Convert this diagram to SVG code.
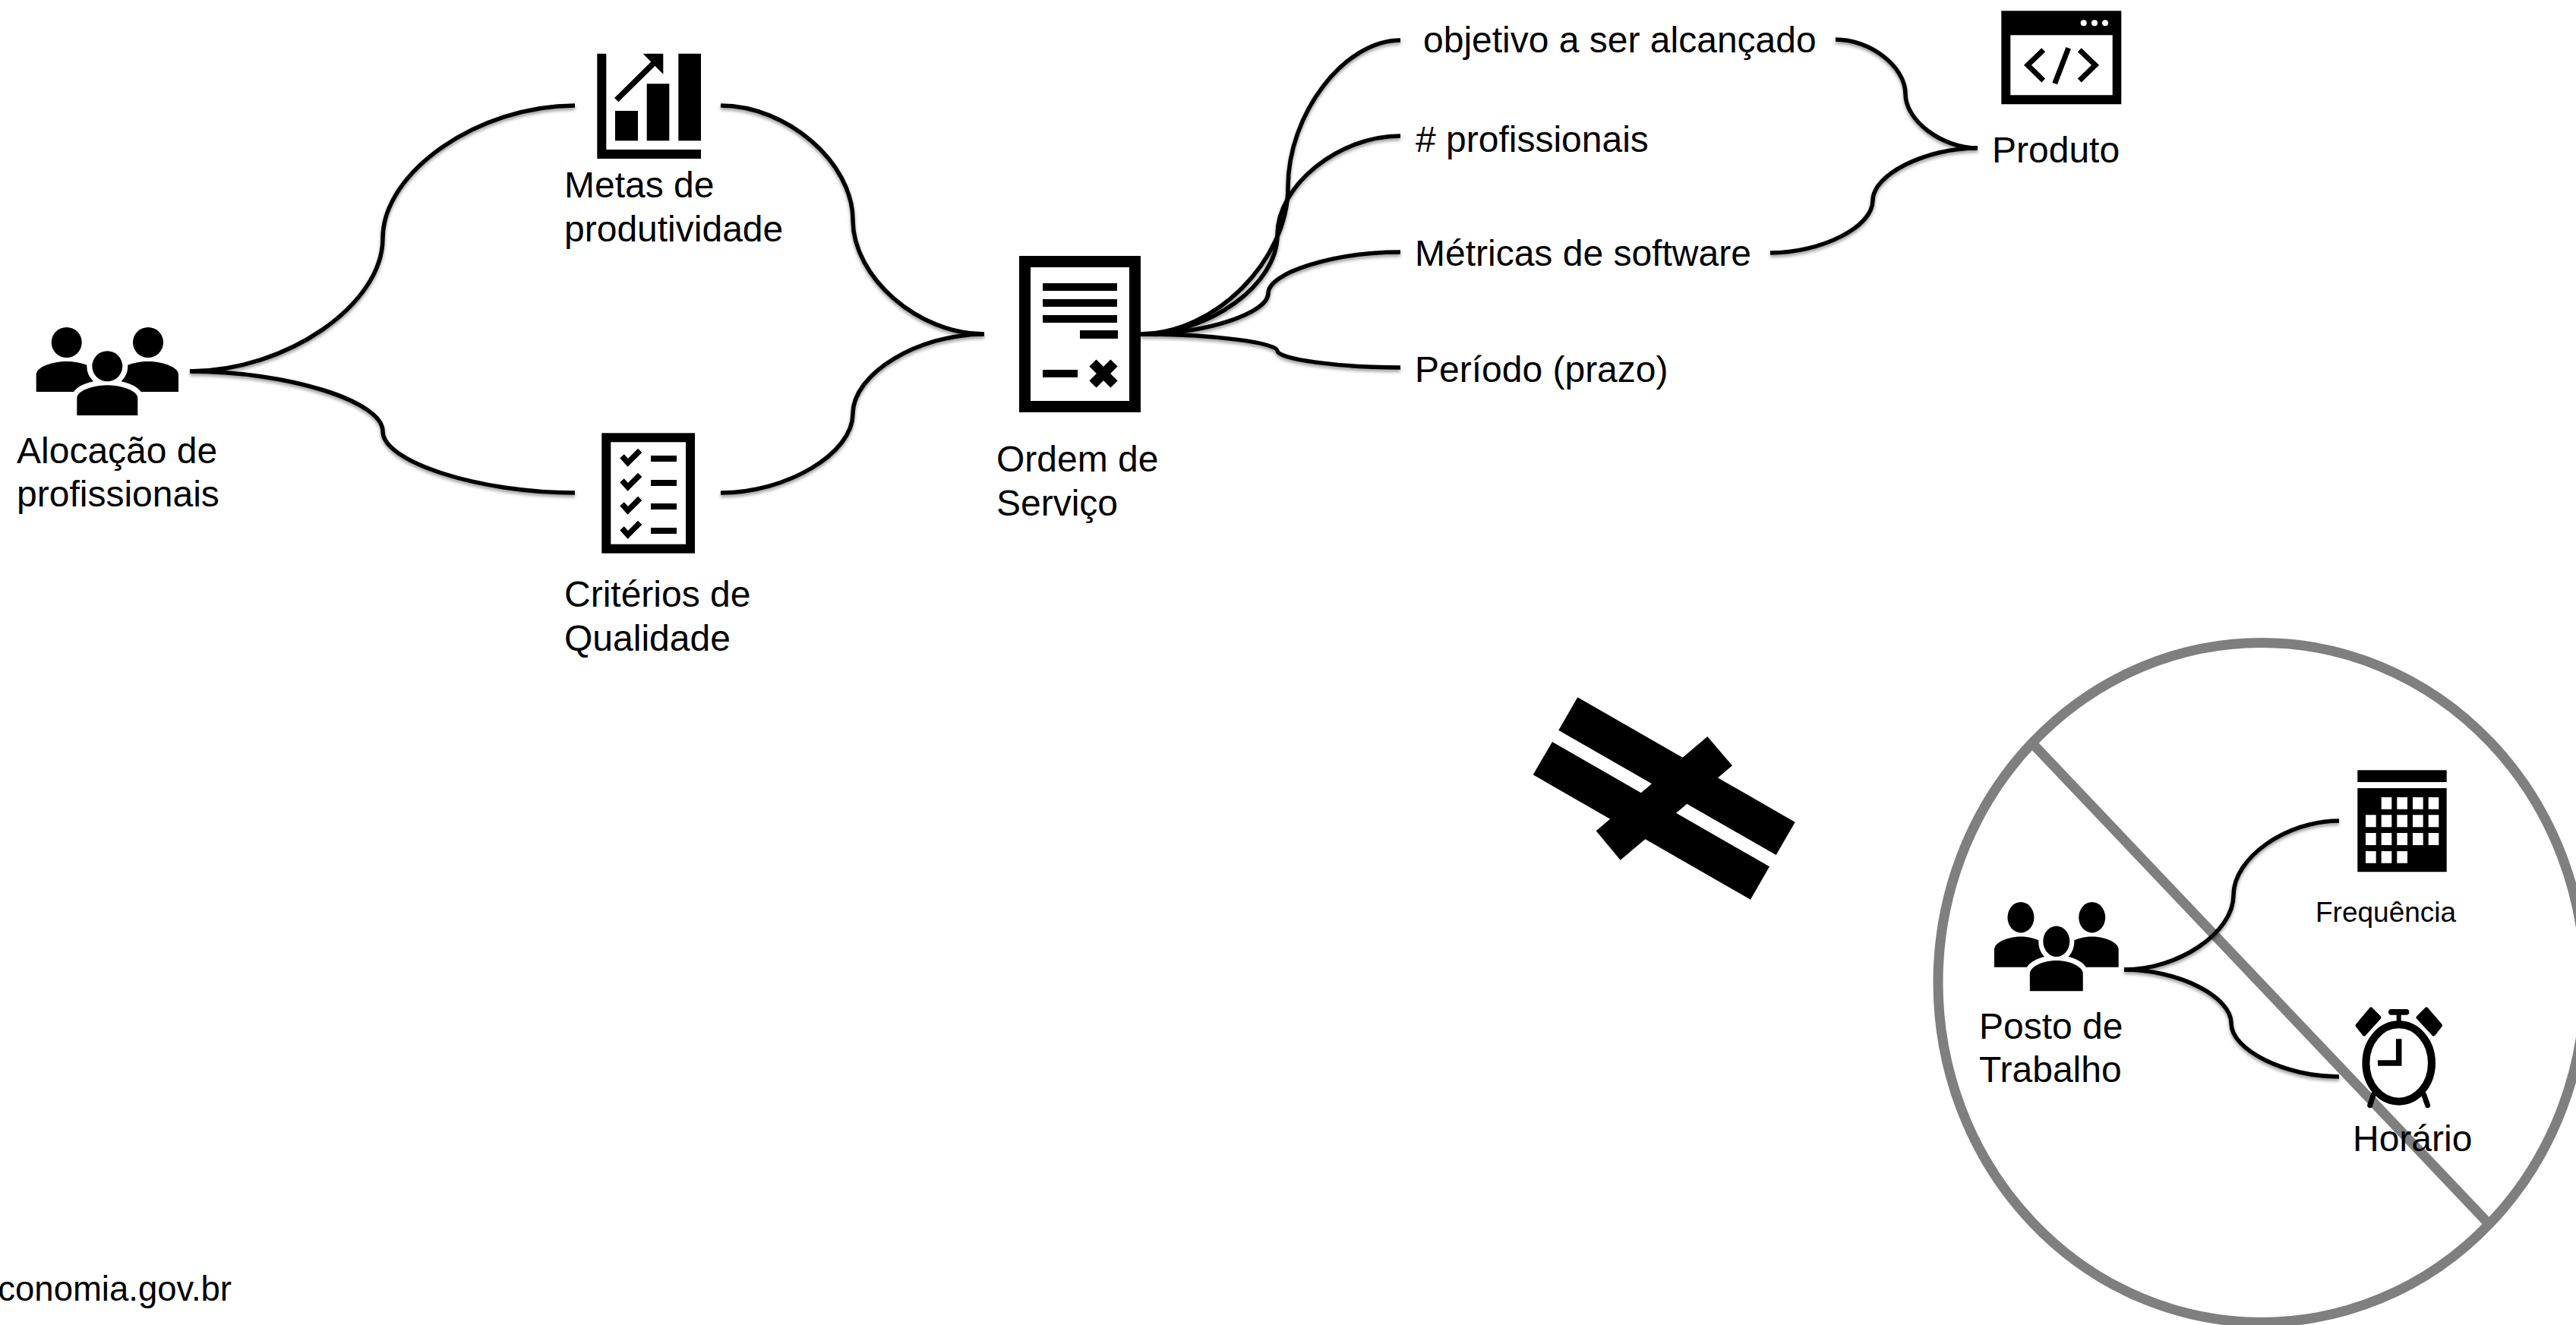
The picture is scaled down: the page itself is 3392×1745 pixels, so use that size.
<svg xmlns="http://www.w3.org/2000/svg" xmlns:xlink="http://www.w3.org/1999/xlink" width="3392" height="1745" viewBox="0 0 3392 1745">
<style>
text{font-family:"Liberation Sans",Arial,sans-serif;font-size:48px;fill:#000}
.conn{fill:none;stroke:#000;stroke-width:5.500}
.ring{fill:none;stroke:#7f7f7f;stroke-width:13}
.ink{fill:none;stroke:#000}
</style>
<defs>
<filter id="shadow" filterUnits="userSpaceOnUse" x="0" y="0" width="3392" height="1745">
<feDropShadow dx="0" dy="3" stdDeviation="2" flood-color="#000" flood-opacity="0.4"/>
</filter>
<path id="body" d="M0,40V17C0,7 22,0 40,0C58,0 80,7 80,17V40Z"/>
<g id="people">
<circle cx="40" cy="20" r="20"/><circle cx="147.3" cy="20" r="20"/>
<use xlink:href="#body" href="#body" x="0" y="45"/><use xlink:href="#body" href="#body" x="107.3" y="45"/>
<circle cx="93.6" cy="51.3" r="20" stroke="#fff" stroke-width="14"/>
<use xlink:href="#body" href="#body" x="53.6" y="76.3" stroke="#fff" stroke-width="14"/>
<circle cx="93.6" cy="51.3" r="20"/>
<use xlink:href="#body" href="#body" x="53.6" y="76.3"/>
<rect x="40" y="116.3" width="110" height="8" fill="#fff"/>
</g>
</defs>
<rect width="3392" height="1745" fill="#fff"/>

<g id="prohibition">
<ellipse class="ring" cx="2978" cy="1294" rx="426" ry="447.500"/>
<line class="ring" x1="2679" y1="982" x2="3276" y2="1610.5"/>
</g>

<g id="connectors" filter="url(#shadow)">
<path class="conn" d="M250,489C377,489 504,401 504,314C504,226 630,139 757,139"/>
<path class="conn" d="M250,489C377,489 504,528 504,568C504,608 630,649 757,649"/>
<path class="conn" d="M949,139C1036,139 1123,214 1123,289.500C1123,365 1209,440 1296,440"/>
<path class="conn" d="M949,649C1036,649 1123,597 1123,545C1123,492 1209,440 1296,440"/>
<path class="conn" d="M1502,440C1599,440 1696,343 1696,246.500C1696,150 1770,53 1844,53"/>
<path class="conn" d="M1502,440C1592,440 1682,375 1682,309.500C1682,244 1763,179 1844,179"/>
<path class="conn" d="M1502,440C1586,440 1670,413 1670,386C1670,359 1757,332 1844,332"/>
<path class="conn" d="M1502,440C1592,440 1682,451 1682,462C1682,473 1763,484 1844,484"/>
<path class="conn" d="M2417,52C2463,52 2509,88 2509,123.500C2509,159 2557,195 2604,195"/>
<path class="conn" d="M2331,333C2398,333 2466,299 2466,264C2466,230 2535,195 2604,195"/>
<path class="conn" d="M2797,1277C2869,1277 2941,1228 2941,1179C2941,1130 3010,1081 3080,1081"/>
<path class="conn" d="M2797,1277C2868,1277 2938,1312 2938,1347.500C2938,1383 3009,1418 3080,1418"/>
</g>

<g id="node-alocacao">
<use xlink:href="#people" href="#people" transform="translate(47.700,431)"/>
<text x="22" y="610">Alocação de</text>
<text x="22" y="667">profissionais</text>
</g>

<g id="node-metas">
<path d="M786.300,70.700H798.300V197H923V209H786.300Z"/>
<rect x="810" y="146" width="30" height="39.300"/>
<rect x="851.700" y="110.300" width="29.600" height="75"/>
<rect x="893.300" y="70.700" width="29.700" height="114.600"/>
<line class="ink" x1="811.700" y1="131.700" x2="862" y2="82" stroke-width="7.500"/>
<polygon points="846.700,70.700 873.300,70.700 873.300,97.700"/>
<text x="743" y="260">Metas de</text>
<text x="743" y="318">produtividade</text>
</g>

<g id="node-criterios">
<rect x="798.300" y="576.300" width="110.700" height="146.400" fill="#fff" stroke="#000" stroke-width="12"/>
<g id="check-rows">
<path d="M857,600h34v8h-34zM857,632h34v8h-34zM857,663h34v8h-34zM857,695h34v8h-34z"/>
<path class="ink" stroke-width="7.500" d="M819,600.700L826.700,609.300L842.700,593.300M819,632.700L826.700,641.300L842.700,625.300M819,663.700L826.700,672.300L842.700,656.300M819,695.700L826.700,704.300L842.700,688.300"/>
</g>
<text x="743" y="799">Critérios de</text>
<text x="743" y="857">Qualidade</text>
</g>

<g id="node-ordem">
<rect x="1349.500" y="344.500" width="145" height="191" fill="#fff" stroke="#000" stroke-width="15"/>
<path d="M1373,373h98v10h-98zM1373,394h98v10h-98zM1373,415h98v10h-98zM1422,435h50v11h-50zM1373,487h46v10h-46z"/>
<path class="ink" stroke-width="13" d="M1439,478L1467,506M1467,478L1439,506"/>
<text x="1312" y="621">Ordem de</text>
<text x="1312" y="679">Serviço</text>
</g>

<g id="node-objetivo"><text x="1874" y="69">objetivo a ser alcançado</text></g>
<g id="node-profissionais"><text x="1864" y="200"># profissionais</text></g>
<g id="node-metricas"><text x="1863" y="350">Métricas de software</text></g>
<g id="node-periodo"><text x="1863" y="503">Período (prazo)</text></g>

<g id="node-produto">
<path fill-rule="evenodd" d="M2635.300,14.300H2793.300V137.300H2635.300ZM2647.300,46.300V125.300H2781.700V46.300Z"/>
<circle cx="2743.700" cy="30.300" r="4" fill="#fff"/><circle cx="2758" cy="30.300" r="4" fill="#fff"/><circle cx="2772" cy="30.300" r="4" fill="#fff"/>
<path class="ink" stroke-width="7" d="M2690.700,65.700L2670,85.700L2690.700,106M2738.300,65.700L2759,85.700L2738.300,106M2723.700,63.300L2705.700,110"/>
<text x="2623" y="214">Produto</text>
</g>

<g id="cross">
<polygon points="2077.300,918.300 2052.300,961.700 2338.700,1126 2363.700,1082.700"/>
<polygon points="2044,977 2018.700,1020.300 2305,1184.700 2330,1141.300"/>
<polygon points="2248.300,970 2281,1008.300 2133.700,1132.700 2101.700,1094.300"/>
</g>

<g id="node-posto">
<use xlink:href="#people" href="#people" transform="translate(2626,1188) scale(0.874,1.010)"/>
<text x="2606" y="1368">Posto de</text>
<text x="2606" y="1425">Trabalho</text>
</g>

<g id="node-frequencia">
<rect x="3104.300" y="1014.300" width="117.400" height="15.700"/>
<path fill-rule="evenodd" d="M3104.300,1038H3221.700V1148.300H3104.300Z
M3135.700,1050h13.600v15.700h-13.600zM3156.300,1050h13.700v15.700h-13.700zM3177,1050h13.700v15.700h-13.700zM3197.700,1050h13.600v15.700h-13.600z
M3115,1073.300h13.700v16h-13.700zM3135.700,1073.300h13.600v16h-13.600zM3156.300,1073.300h13.700v16h-13.700zM3177,1073.300h13.700v16h-13.700zM3197.700,1073.300h13.600v16h-13.600z
M3115,1097h13.700v16h-13.700zM3135.700,1097h13.600v16h-13.600zM3156.300,1097h13.700v16h-13.700zM3177,1097h13.700v16h-13.700zM3197.700,1097h13.600v16h-13.600z
M3115,1121h13.700v15.700h-13.700zM3135.700,1121h13.600v15.700h-13.600zM3156.300,1121h13.700v15.700h-13.700z"/>
<text x="3049" y="1214" style="font-size:37px">Frequência</text>
</g>

<g id="node-horario">
<ellipse cx="3158.700" cy="1400" rx="43.300" ry="50.700" fill="none" stroke="#000" stroke-width="10"/>
<rect x="3155.700" y="1332" width="6" height="20"/>
<rect x="3145" y="1329" width="27.300" height="7.700" rx="3.800"/>
<path stroke="#000" stroke-width="5" stroke-linejoin="round" d="M3122,1329L3133,1340L3113,1362L3104,1350.500ZM3195,1329L3184,1340L3204.500,1362L3213.500,1350.500Z"/>
<path class="ink" stroke-width="7.500" d="M3158.700,1368.300V1400H3131"/>
<path class="ink" stroke-width="7" stroke-linecap="round" d="M3125.300,1441.700L3120.700,1455.700M3191.700,1441.700L3196.700,1455.700"/>
<text x="3098" y="1516">Horário</text>
</g>

<g id="footer"><text x="305" y="1713" text-anchor="end" style="font-size:45.500px">conomia.gov.br</text></g>
</svg>
